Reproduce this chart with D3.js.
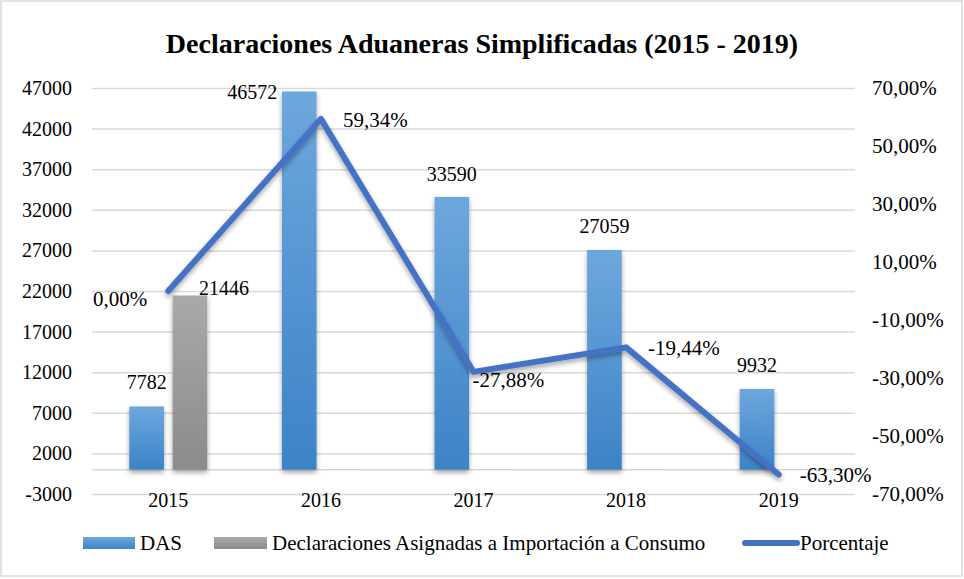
<!DOCTYPE html>
<html>
<head>
<meta charset="utf-8">
<script src="https://cdn.jsdelivr.net/npm/d3@7"></script>
<style>
  html, body { margin: 0; padding: 0; background: #fff; }
  svg { display: block; }
</style>
</head>
<body>
<svg id="chart" width="964" height="579"></svg>
<script>
// ---- Data ----
const years = ["2015", "2016", "2017", "2018", "2019"];
const das = [7782, 46572, 33590, 27059, 9932];
const asignadas = [21446, 0, 0, 0, 0];
const porcentaje = [0.00, 59.34, -27.88, -19.44, -63.30];
const leftTicks = [-3000, 2000, 7000, 12000, 17000, 22000, 27000, 32000, 37000, 42000, 47000];
const rightTicks = [-70, -50, -30, -10, 10, 30, 50, 70];
const seriesNames = ["DAS", "Declaraciones Asignadas a Importación a Consumo", "Porcentaje"];
const titleText = "Declaraciones Aduaneras Simplificadas (2015 - 2019)";

// ---- Layout ----
const W = 964, H = 579;
const plot = { left: 92, right: 855, top: 88, bottom: 494 };
const FS = 20, FS_PCT = 21, FS_LEG = 21;
const FONT = "Liberation Serif";

const svg = d3.select("#chart").style("font-family", FONT);
const defs = svg.append("defs");

function grad(id, c1, c2) {
  const g = defs.append("linearGradient").attr("id", id)
    .attr("x1", 0).attr("y1", 0).attr("x2", 0).attr("y2", 1);
  g.append("stop").attr("offset", "0%").attr("stop-color", c1);
  g.append("stop").attr("offset", "100%").attr("stop-color", c2);
}
grad("gBlue", "#6ea7dd", "#3c83c7");
grad("gGray", "#a9a9a9", "#8b8b8b");

const sh = defs.append("filter").attr("id", "shadow")
  .attr("x", "-30%").attr("y", "-30%").attr("width", "160%").attr("height", "160%");
sh.append("feDropShadow").attr("dx", 0).attr("dy", 3).attr("stdDeviation", 2.5)
  .attr("flood-color", "#000").attr("flood-opacity", 0.35);

// Frame
svg.append("rect").attr("x", 1).attr("y", 1).attr("width", W - 3).attr("height", H - 4)
  .attr("fill", "#fff").attr("stroke", "#d9d9d9").attr("stroke-width", 1.5);

// Scales
const x0 = d3.scaleBand().domain(years).range([plot.left, plot.right]).padding(0);
const x1 = d3.scaleBand().domain(["das", "asig"]).range([0, 78]).paddingInner(0.2).paddingOuter(0);
const yL = d3.scaleLinear().domain([-3000, 47000]).range([plot.bottom, plot.top]);
const yR = d3.scaleLinear().domain([-70, 70]).range([plot.bottom, plot.top]);
const cx = d => x0(d) + x0.bandwidth() / 2;

// Gridlines (left axis)
const gridAxis = d3.axisLeft(yL).tickValues(leftTicks).tickSize(-(plot.right - plot.left)).tickFormat("");
const gGrid = svg.append("g").attr("transform", `translate(${plot.left},0)`).call(gridAxis);
gGrid.select(".domain").remove();
gGrid.selectAll("line").attr("stroke", "#d9d9d9").attr("stroke-width", 1.5);

// Zero (category) axis line
svg.append("line").attr("x1", plot.left).attr("x2", plot.right)
  .attr("y1", yL(0)).attr("y2", yL(0)).attr("stroke", "#d9d9d9").attr("stroke-width", 1.5);

// Left axis labels
const axL = d3.axisLeft(yL).tickValues(leftTicks).tickSize(0).tickPadding(20).tickFormat(d => String(d));
const gL = svg.append("g").attr("transform", `translate(${plot.left},0)`).call(axL);
gL.select(".domain").remove();
gL.selectAll("text").attr("class", "num");

// Right axis labels
const fmtPct = v => v.toFixed(2).replace(".", ",") + "%";
const axR = d3.axisRight(yR).tickValues(rightTicks).tickSize(0).tickPadding(17).tickFormat(fmtPct);
const gR = svg.append("g").attr("transform", `translate(${plot.right},0)`).call(axR);
gR.select(".domain").remove();
gR.selectAll("text").attr("class", "pct");

// Category labels
const axX = d3.axisBottom(x0).tickSize(0).tickPadding(0);
const gX = svg.append("g").attr("transform", `translate(0,${plot.bottom})`).call(axX);
gX.select(".domain").remove();
gX.selectAll("text").attr("class", "num").attr("dy", "0.55em").attr("y", 2);

// Bars
const groupX = d => cx(d) - 39;
const barsG = svg.append("g");
barsG.selectAll("rect.das").data(years).join("rect").attr("class", "das")
  .attr("x", d => groupX(d) + x1("das")).attr("width", x1.bandwidth())
  .attr("y", (d, i) => yL(das[i])).attr("height", (d, i) => yL(0) - yL(das[i]))
  .attr("fill", "url(#gBlue)").attr("filter", "url(#shadow)");
barsG.selectAll("rect.asig").data(years).join("rect").attr("class", "asig")
  .attr("x", d => groupX(d) + x1("asig")).attr("width", x1.bandwidth())
  .attr("y", (d, i) => yL(asignadas[i]) - (asignadas[i] === 0 ? 0.5 : 0))
  .attr("height", (d, i) => Math.max(0.5, yL(0) - yL(asignadas[i])))
  .attr("fill", "url(#gGray)").attr("filter", "url(#shadow)")
  .attr("opacity", (d, i) => asignadas[i] === 0 ? 0.25 : 1);

// Line
const line = d3.line().x((d, i) => cx(years[i])).y(d => yR(d));
svg.append("path").datum(porcentaje).attr("d", line)
  .attr("fill", "none").attr("stroke", "#4472c4").attr("stroke-width", 6)
  .attr("stroke-linejoin", "round").attr("stroke-linecap", "round")
  .attr("filter", "url(#shadow)");

// Bar data labels (label placement offsets relative to bar top)
const dasLabelPos = [
  { anchor: "middle", dx: 0, dy: -17 },
  { anchor: "end", dx: -22, dy: 8 },
  { anchor: "middle", dx: 0, dy: -16 },
  { anchor: "middle", dx: 0, dy: -17 },
  { anchor: "middle", dx: 0, dy: -17 }
];
svg.append("g").selectAll("text").data(years).join("text").attr("class", "num")
  .attr("x", (d, i) => groupX(d) + x1("das") + x1.bandwidth() / 2 + dasLabelPos[i].dx)
  .attr("y", (d, i) => yL(das[i]) + dasLabelPos[i].dy)
  .attr("text-anchor", (d, i) => dasLabelPos[i].anchor)
  .text((d, i) => das[i]);

svg.append("g").selectAll("text").data(years.filter((d, i) => asignadas[i] > 0)).join("text").attr("class", "num")
  .attr("x", d => groupX(d) + x1("asig") + x1.bandwidth() / 2 + 34)
  .attr("y", d => yL(asignadas[years.indexOf(d)]))
  .attr("text-anchor", "middle")
  .text(d => asignadas[years.indexOf(d)]);

// Line data labels
const pctLabelPos = [
  { anchor: "end", dx: -21, dy: 15 },
  { anchor: "start", dx: 22, dy: 8 },
  { anchor: "start", dx: -1, dy: 15 },
  { anchor: "start", dx: 22, dy: 8 },
  { anchor: "start", dx: 21, dy: 7 }
];
svg.append("g").selectAll("text").data(porcentaje).join("text").attr("class", "pct")
  .attr("x", (d, i) => cx(years[i]) + pctLabelPos[i].dx)
  .attr("y", (d, i) => yR(d) + pctLabelPos[i].dy)
  .attr("text-anchor", (d, i) => pctLabelPos[i].anchor)
  .text(d => fmtPct(d));

// Title
svg.append("text").attr("class", "title").attr("x", 482).attr("y", 53).attr("text-anchor", "middle")
  .style("font-size", "28px").style("font-weight", "bold")
  .text(titleText);

// Legend
const legY = 543;
const leg = svg.append("g");
leg.append("rect").attr("x", 83).attr("y", legY - 6).attr("width", 52).attr("height", 12).attr("fill", "url(#gBlue)");
leg.append("text").attr("class", "leg").attr("x", 140).attr("y", legY + 7).text(seriesNames[0]);
leg.append("rect").attr("x", 214).attr("y", legY - 6).attr("width", 53).attr("height", 12).attr("fill", "url(#gGray)");
leg.append("text").attr("class", "leg").attr("x", 272).attr("y", legY + 7).text(seriesNames[1]);
leg.append("line").attr("x1", 745).attr("x2", 797).attr("y1", legY).attr("y2", legY)
  .attr("stroke", "#4472c4").attr("stroke-width", 6).attr("stroke-linecap", "round");
leg.append("text").attr("class", "leg").attr("x", 800).attr("y", legY + 7).text(seriesNames[2]);

// Apply font to every text
svg.selectAll("text").style("font-family", FONT).attr("fill", "#000");
svg.selectAll("text.num").style("font-size", FS + "px");
svg.selectAll("text.pct").style("font-size", FS_PCT + "px");
svg.selectAll("text.leg").style("font-size", FS_LEG + "px");
</script>
</body>
</html>
